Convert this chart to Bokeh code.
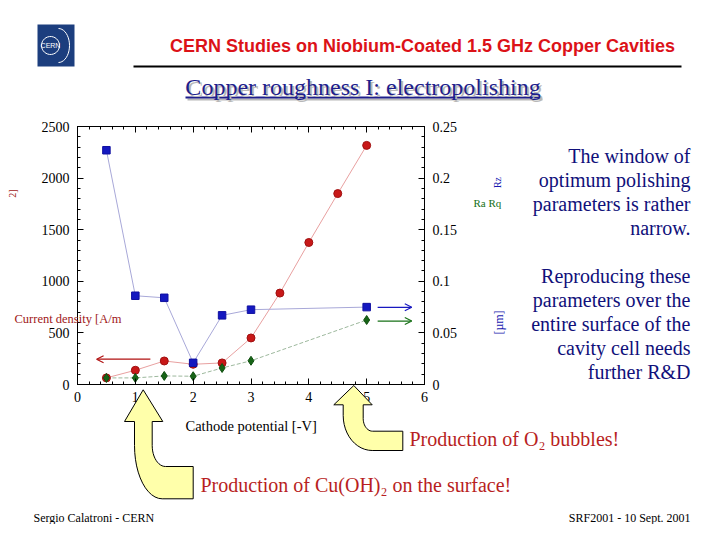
import math
from bokeh.plotting import figure
from bokeh.models import (Label, Arrow, OpenHead, LinearAxis, Range1d, SingleIntervalTicker,
                          CustomJSTickFormatter)
from bokeh.embed import file_html
from bokeh.resources import INLINE

# ---------------- data ----------------
potential = [0.5, 1, 1.5, 2, 2.5, 3, 3.5, 4, 4.5, 5]
current_density = [64, 138, 228, 196, 209, 451, 886, 1376, 1850, 2317]
rough_potential = [0.5, 1, 1.5, 2, 2.5, 3, 5]
rz_um = [0.227, 0.086, 0.084, 0.021, 0.067, 0.0725, 0.075]
ra_um = [0.0064, 0.0064, 0.0083, 0.008, 0.016, 0.023, 0.0625]

x_ticks_interval = 1
left_ticks_interval = 500
right_ticks_interval = 0.05

SERIF = "Liberation Serif"
SANS = "Liberation Sans"

W, H = 704, 524
BL, BT = 77, 126
FW, FH = 347, 258
BR, BB = W - BL - FW, H - BT - FH

# ---------------- chart ----------------
chart = figure(width=W, height=H, x_range=(0, 6), y_range=(0, 2500),
               output_backend="svg", toolbar_location=None, title=None,
               x_axis_type=None, y_axis_type=None,
               min_border_left=BL, min_border_right=BR, min_border_top=BT, min_border_bottom=BB)
chart.xgrid.visible = False
chart.ygrid.visible = False
chart.outline_line_color = "black"
chart.outline_line_width = 1
chart.background_fill_color = "white"
chart.border_fill_color = "white"
chart.extra_y_ranges = {"r": Range1d(0, 0.25)}


def style_axis(ax, show_labels=True):
    ax.major_tick_in = 6
    ax.major_tick_out = 0
    ax.minor_tick_in = 3
    ax.minor_tick_out = 0
    ax.axis_line_color = "black"
    ax.major_tick_line_color = "black"
    ax.minor_tick_line_color = "black"
    ax.major_label_text_font = SERIF
    ax.major_label_text_font_size = "14px"
    ax.major_label_text_color = "black"
    ax.major_label_standoff = 8 if show_labels else 0


bottom = LinearAxis(ticker=SingleIntervalTicker(interval=x_ticks_interval, num_minor_ticks=5))
style_axis(bottom)
bottom.major_label_standoff = 7
chart.add_layout(bottom, "below")

top = LinearAxis(ticker=SingleIntervalTicker(interval=x_ticks_interval, num_minor_ticks=5),
                 formatter=CustomJSTickFormatter(code="return '';"))
style_axis(top, False)
chart.add_layout(top, "above")

left = LinearAxis(ticker=SingleIntervalTicker(interval=left_ticks_interval, num_minor_ticks=5))
style_axis(left)
chart.add_layout(left, "left")

right = LinearAxis(y_range_name="r",
                   ticker=SingleIntervalTicker(interval=right_ticks_interval, num_minor_ticks=5),
                   formatter=CustomJSTickFormatter(code="return String(Math.round(tick*100)/100);"))
style_axis(right)
chart.add_layout(right, "right")

chart.line(potential, current_density, line_color="#E8A0A0", line_width=1)
chart.line(rough_potential, rz_um, y_range_name="r", line_color="#A8A8D8", line_width=1)
chart.line(rough_potential, ra_um, y_range_name="r", line_color="#9DB89D", line_width=1, line_dash="4 2")
chart.scatter(potential, current_density, marker="circle", size=8, fill_color="#C81818", line_color="#A01010")
chart.scatter(rough_potential, rz_um, y_range_name="r", marker="square", size=7.5,
              fill_color="#1418C0", line_color="#1010A0")
chart.scatter(rough_potential, ra_um, y_range_name="r", marker="diamond", size=9,
              fill_color="#166416", line_color="#105010")

chart.add_layout(Arrow(end=OpenHead(size=7, line_color="#B01010", line_width=1.2),
                       x_start=1.26, y_start=245, x_end=0.33, y_end=245,
                       line_color="#B01010", line_width=1.2))
chart.add_layout(Arrow(end=OpenHead(size=7, line_color="#1818C0", line_width=1.2),
                       x_start=5.19, y_start=0.0748, x_end=5.78, y_end=0.0748, y_range_name="r",
                       line_color="#1818C0", line_width=1.2))
chart.add_layout(Arrow(end=OpenHead(size=7, line_color="#167016", line_width=1.2),
                       x_start=5.19, y_start=0.0615, x_end=5.78, y_end=0.0615, y_range_name="r",
                       line_color="#167016", line_width=1.2))

# ---------------- slide overlay (page pixel coordinates) ----------------
s = figure(width=W, height=H, x_range=Range1d(0, W), y_range=Range1d(H, 0),
           output_backend="svg", toolbar_location=None, title=None,
           x_axis_type=None, y_axis_type=None, min_border=0)
s.xgrid.visible = False
s.ygrid.visible = False
s.outline_line_color = None
s.background_fill_alpha = 0
s.border_fill_alpha = 0
s.styles = {"position": "absolute", "left": "0px", "top": "0px"}


def label(text, X, Y, size, color, font=SERIF, align="left", style="normal", angle=0.0):
    s.add_layout(Label(x=X, y=Y, text=text, text_font=font, text_font_size=f"{size}px",
                       text_color=color, text_align=align, text_baseline="middle",
                       text_font_style=style, angle=angle))


# logo
s.quad(left=37, right=74, top=24, bottom=66, fill_color="#1C3E7E", line_color=None)
t = [k / 30 * 2 * math.pi for k in range(31)]
s.line([50 + 9 * math.cos(a) for a in t], [45 + 9 * math.sin(a) for a in t], line_color="white", line_width=1)
t2 = [-math.pi / 2 + k / 20 * math.pi for k in range(21)]
s.line([58 + 11 * math.cos(a) for a in t2], [45 + 17 * math.sin(a) for a in t2], line_color="white", line_width=1)
label("CERN", 50, 45, 7, "white", font=SANS, align="center")

# title
label("CERN Studies on Niobium-Coated 1.5 GHz Copper Cavities", 422, 45, 18, "#DC1218",
      font=SANS, align="center", style="bold")
s.quad(left=133, right=681, top=65, bottom=67, fill_color="black", line_color=None)

# subtitle with shadow + underline
label("Copper roughness I: electropolishing", 364.5, 88, 24, "#B8B8B8", align="center")
s.quad(left=187, right=542, top=98, bottom=100, fill_color="#B8B8B8", line_color=None)
label("Copper roughness I: electropolishing", 362.5, 86, 24, "#1E1E8C", align="center")
s.quad(left=185, right=540, top=96, bottom=98, fill_color="#1E1E8C", line_color=None)

# right-hand text
navy = "#10107A"
for i, txt in enumerate(["The window of", "optimum polishing", "parameters is rather", "narrow."]):
    label(txt, 690, 155 + 24 * i, 20, navy, align="right")
for i, txt in enumerate(["Reproducing these", "parameters over the", "entire surface of the",
                         "cavity cell needs", "further R&D"]):
    label(txt, 690, 275 + 24 * i, 20, navy, align="right")

# x axis title
label("Cathode potential [-V]", 185, 425, 14.5, "black")

# garbled rotated axis titles (as they appear in the source image)
label("Current density [A/m", 14, 318, 12.5, "#A01818")
label("2]", 12, 193, 10, "#A01818", angle=math.pi / 2, align="center")
label("Rz", 497, 182, 10, "#1818B0", angle=math.pi / 2, align="center")
label("Ra  Rq", 473, 202, 11, "#167016")
label("[µm]", 498, 322, 12, "#1818B0", angle=math.pi / 2, align="center")


# yellow curved arrows
def curved_arrow(tip, head_y, head_l, head_r, sh_l, sh_r, ya, ix, tail_top, tail_right,
                 tail_bot, bx, yb):
    xs, ys = [tip[0], head_r, sh_r], [tip[1], head_y, head_y]
    cx, cy, rx, ry = ix, ya, ix - sh_r, tail_top - ya
    for k in range(13):
        a = math.pi - k / 12 * math.pi / 2
        xs.append(cx + rx * math.cos(a))
        ys.append(cy + ry * math.sin(a))
    xs += [tail_right, tail_right]
    ys += [tail_top, tail_bot]
    cx, cy, rx, ry = bx, yb, bx - sh_l, tail_bot - yb
    for k in range(13):
        a = math.pi / 2 + k / 12 * math.pi / 2
        xs.append(cx + rx * math.cos(a))
        ys.append(cy + ry * math.sin(a))
    xs += [sh_l, head_l, tip[0]]
    ys += [head_y, head_y, tip[1]]
    s.patch(xs, ys, fill_color="#FFFFAA", line_color="black", line_width=1)


curved_arrow((142.7, 389.3), 421, 124, 162.3, 134, 151.7, 445, 165, 466, 192.7, 498.3, 161.7, 445)
curved_arrow((353.3, 385), 404.3, 333.3, 371.7, 342.7, 362.7, 418, 372, 430.7, 402.3, 450, 371.7, 415)

dred = "#B81E22"
label("Production of O\u2082 bubbles!", 409, 438, 20, dred)
label("Production of Cu(OH)\u2082 on the surface!", 200, 484, 20, dred)

label("Sergio Calatroni - CERN", 33, 517, 12, "black")
label("SRF2001 - 10 Sept. 2001", 690, 517, 12, "black", align="right")

p = [chart, s]
open("out.html", "w").write(file_html(p, INLINE))
